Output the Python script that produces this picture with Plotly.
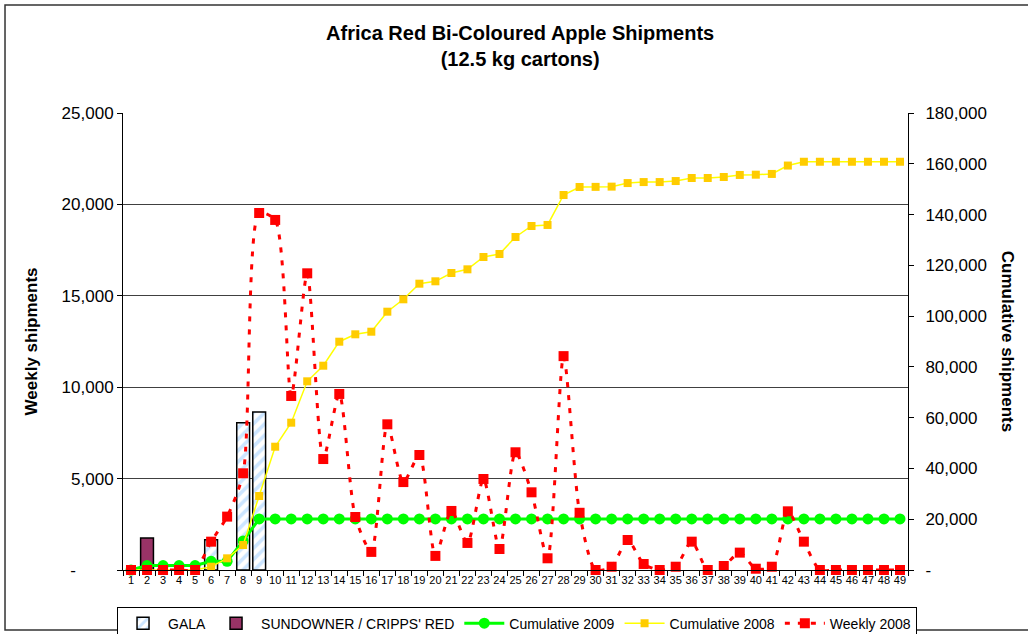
import plotly.graph_objects as go

weeks = [str(w) for w in range(1, 50)]

gala_weeks = ["6", "8", "9"]
gala = [1650, 8050, 8650]

sundowner_weeks = ["2"]
sundowner = [1750]

cumulative_2009 = [0, 1750, 1750, 1750, 1750, 3400, 3400, 11450, 20100] + [20100] * 40

cumulative_2008 = [0, 0, 0, 0, 0, 1300, 4600, 9850, 29150, 48560, 58020, 74320, 80470,
                   89920, 92830, 93860, 101740, 106620, 112770, 113710, 116980, 118430,
                   123280, 124470, 131160, 135500, 135900, 147700, 150850, 150900, 151000,
                   152400, 152800, 152800, 153200, 154400, 154400, 154800, 155600, 155700,
                   156000, 159300, 160800, 160800, 160800, 160800, 160800, 160800, 160800]

weekly_2008 = [0, 0, 0, 0, 0, 1550, 2920, 5290, 19530, 19150, 9520, 16230, 6070, 9630,
               2900, 990, 7970, 4810, 6290, 770, 3230, 1480, 4980, 1150, 6440, 4250, 640,
               11700, 3130, 0, 180, 1640, 330, 0, 180, 1550, 0, 220, 950, 70, 180, 3210,
               1550, 0, 0, 0, 0, 0, 0]

left_ticks = [0, 5000, 10000, 15000, 20000, 25000]
right_ticks = [0, 20000, 40000, 60000, 80000, 100000, 120000, 140000, 160000, 180000]

FONT = "Liberation Sans, Arial, sans-serif"

fig = go.Figure()

fig.add_trace(go.Bar(
    x=gala_weeks, y=gala, name="GALA", width=0.8,
    marker=dict(color="white", line=dict(color="black", width=1.5),
                pattern=dict(shape="/", fgcolor="#99CCFF", bgcolor="white",
                             size=8, solidity=0.45)),
))
fig.add_trace(go.Bar(
    x=sundowner_weeks, y=sundowner, name="SUNDOWNER / CRIPPS' RED", width=0.8,
    marker=dict(color="#993366", line=dict(color="black", width=1.5)),
))
fig.add_trace(go.Scatter(
    x=weeks, y=cumulative_2009, name="Cumulative 2009", yaxis="y2",
    mode="lines+markers", cliponaxis=False,
    line=dict(color="#00FF00", width=3),
    marker=dict(symbol="circle", size=11, color="#00FF00"),
))
fig.add_trace(go.Scatter(
    x=weeks, y=cumulative_2008, name="Cumulative 2008", yaxis="y2",
    mode="lines+markers", cliponaxis=False,
    line=dict(color="#FFFF00", width=1.5),
    marker=dict(symbol="square", size=8, color="#FFCC00"),
))
fig.add_trace(go.Scatter(
    x=weeks, y=weekly_2008, name="Weekly 2008", yaxis="y3",
    mode="lines+markers", cliponaxis=False,
    line=dict(color="#FF0000", width=3, dash="5px,8px", shape="spline", smoothing=0.7),
    marker=dict(symbol="square", size=10, color="#FF0000"),
))

fig.update_layout(
    width=1028, height=634,
    paper_bgcolor="white", plot_bgcolor="white",
    font=dict(family=FONT, color="black"),
    margin=dict(l=123, r=120, t=113, b=64, autoexpand=False),
    barmode="overlay",
    title=dict(
        text="<b>Africa Red Bi-Coloured Apple Shipments<br>(12.5 kg cartons)</b>",
        x=0.506, xref="container", xanchor="center",
        y=0.937, yref="container", yanchor="top",
        font=dict(size=20, family=FONT),
    ),
    xaxis=dict(
        type="category", categoryorder="array", categoryarray=weeks,
        range=[-0.5, 48.5], tickson="boundaries", ticks="outside", ticklen=5,
        tickcolor="black", showline=True, linecolor="black", linewidth=1,
        showgrid=False, tickfont=dict(size=11), tickangle=0,
    ),
    yaxis=dict(
        range=[0, 25000], tickvals=left_ticks,
        ticktext=["-\u00a0\u00a0\u00a0\u00a0\u00a0\u00a0\u00a0\u00a0", "5,000", "10,000", "15,000", "20,000", "25,000"],
        ticks="outside", ticklen=5, tickcolor="black",
        showline=True, linecolor="black", linewidth=1,
        showgrid=True, gridcolor="#404040", gridwidth=1, zeroline=False,
        tickfont=dict(size=17),
    ),
    yaxis2=dict(
        range=[0, 180000], overlaying="y", side="right", anchor="x",
        tickvals=right_ticks,
        ticktext=["-", "20,000", "40,000", "60,000", "80,000", "100,000", "120,000",
                  "140,000", "160,000", "180,000"],
        ticks="outside", ticklen=5, tickcolor="black", ticklabelstandoff=8,
        showline=True, linecolor="black", linewidth=1,
        showgrid=False, zeroline=False, tickfont=dict(size=17),
    ),
    yaxis3=dict(
        range=[0, 25000], overlaying="y", anchor="x", visible=False,
        showgrid=False, zeroline=False,
    ),
    legend=dict(
        orientation="h", x=-0.0076, xanchor="left", y=-0.08, yanchor="top",
        bordercolor="black", borderwidth=1, bgcolor="white",
        font=dict(size=14, family=FONT), itemwidth=40, traceorder="normal",
    ),
    annotations=[
        dict(text="<b>Weekly shipments</b>", xref="paper", yref="paper",
             x=-0.116, y=0.5, xanchor="center", yanchor="middle",
             textangle=-90, showarrow=False,
             font=dict(size=17, family=FONT)),
        dict(text="<b>Cumulative shipments</b>", xref="paper", yref="paper",
             x=1.127, y=0.5, xanchor="center", yanchor="middle",
             textangle=90, showarrow=False,
             font=dict(size=17, family=FONT)),
    ],
    shapes=[
        dict(type="rect", xref="paper", yref="paper",
             x0=-0.1503, x1=1.16, y0=-0.1313, y1=1.2363,
             line=dict(color="#333333", width=1.5), layer="below"),
    ],
)

# the page's default body margin shifts the figure by 8px
fig.write_html("out.html", config={"displayModeBar": False},
               post_script="document.body.style.margin='0';")
